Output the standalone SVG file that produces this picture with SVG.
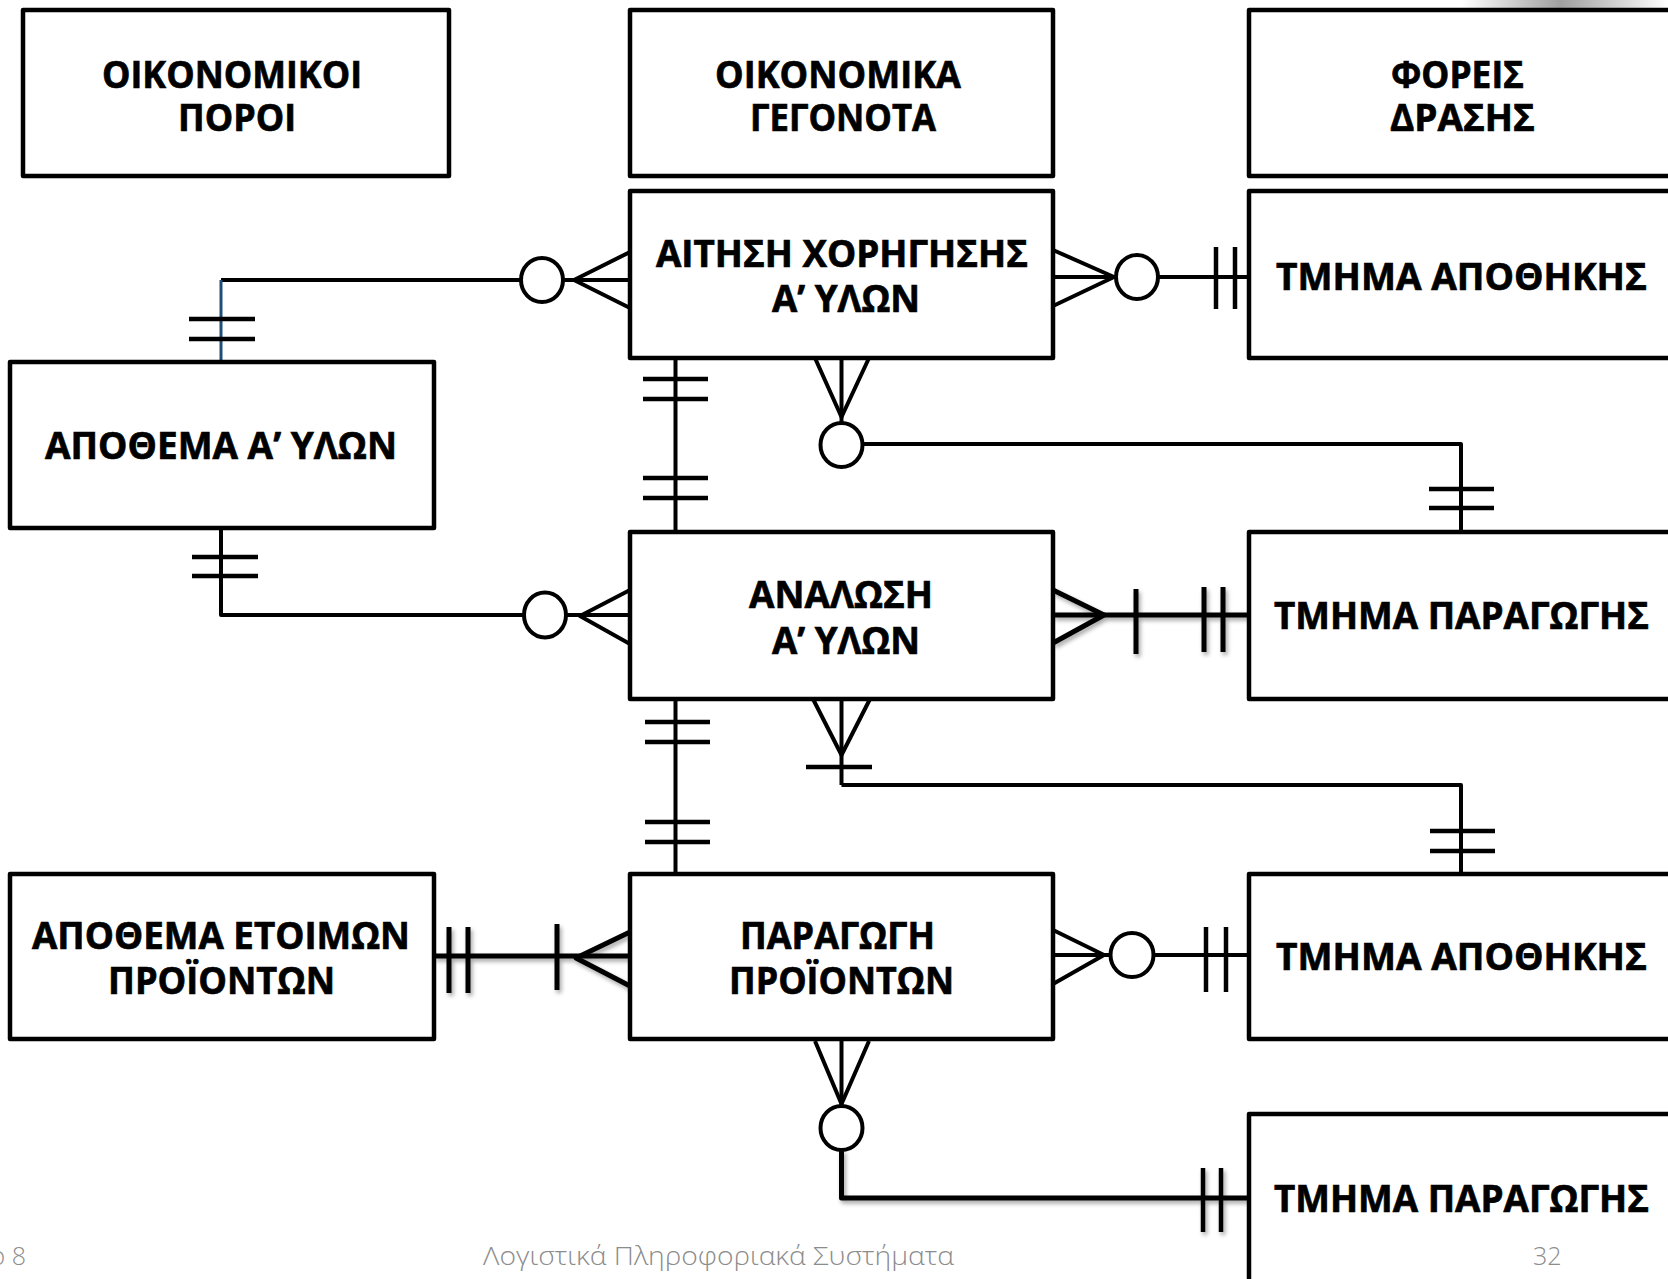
<svg xmlns="http://www.w3.org/2000/svg" width="1668" height="1279" viewBox="0 0 1668 1279">
<defs>
<linearGradient id="topShade" x1="0" y1="0" x2="1" y2="0">
<stop offset="0" stop-color="#a0a0a0" stop-opacity="0"/>
<stop offset="0.48" stop-color="#a0a0a0" stop-opacity="1"/>
<stop offset="1" stop-color="#a0a0a0" stop-opacity="0"/>
</linearGradient>
<filter id="shadow" x="-20%" y="-20%" width="140%" height="140%">
<feDropShadow dx="2" dy="3" stdDeviation="2" flood-color="#000" flood-opacity="0.35"/>
</filter>
<style>
.box{fill:#fff;stroke:#000;stroke-width:4.5;stroke-linejoin:round}
.lbl{font-family:"Open Sans","Liberation Sans",sans-serif;font-weight:700;font-size:38px;fill:#000;stroke:#000;stroke-width:0.7}
.c{fill:none;stroke:#000;stroke-width:4;stroke-linejoin:round}
.t{fill:none;stroke:#000;stroke-width:4.5}
.o{fill:#fff;stroke:#000;stroke-width:4}
.thick{stroke-width:5}
.foot{font-family:"Open Sans","Liberation Sans",sans-serif;font-weight:300;font-size:25px;fill:#8c8c8c}
</style>
</defs>
<rect width="1668" height="1279" fill="#fff"/>
<rect x="1462" y="0" width="206" height="8" fill="url(#topShade)"/>

<g id="connectors">
<g id="conn-a">
<line class="c" x1="221" y1="280" x2="521" y2="280"/>
<line x1="221" y1="280" x2="221" y2="362" stroke="#1f4e79" stroke-width="3"/>
<line class="t" x1="189" y1="319" x2="255" y2="319"/>
<line class="t" x1="189" y1="339" x2="255" y2="339"/>
<ellipse class="o" cx="542" cy="280" rx="21" ry="22"/>
<polyline class="c" points="630,252 574,280 630,308"/>
<line class="c" x1="563" y1="280" x2="630" y2="280"/>
</g>
<g id="conn-b">
<polyline class="c" points="221,528 221,615 523,615"/>
<line class="t" x1="192" y1="557" x2="258" y2="557"/>
<line class="t" x1="192" y1="576" x2="258" y2="576"/>
<ellipse class="o" cx="545" cy="615" rx="21" ry="22.5"/>
<polyline class="c" points="630,590 580,616 630,644"/>
<line class="c" x1="566" y1="615" x2="630" y2="615"/>
</g>
<g id="conn-c">
<polyline class="c" points="1053,250 1114,277 1053,306"/>
<line class="c" x1="1053" y1="277" x2="1116" y2="277"/>
<ellipse class="o" cx="1137" cy="277" rx="21" ry="22"/>
<line class="c" x1="1158" y1="277" x2="1249" y2="277"/>
<line class="t" x1="1216" y1="247" x2="1216" y2="309"/>
<line class="t" x1="1235" y1="247" x2="1235" y2="309"/>
</g>
<g id="conn-d">
<polyline class="c" points="815,358 841.5,417 869,358"/>
<line class="c" x1="841.5" y1="358" x2="841.5" y2="423"/>
<ellipse class="o" cx="841.5" cy="445" rx="21" ry="22"/>
<polyline class="c" points="862.5,444 1461,444 1461,532"/>
<line class="t" x1="1429" y1="489" x2="1494" y2="489"/>
<line class="t" x1="1429" y1="508" x2="1494" y2="508"/>
</g>
<g id="conn-e">
<line class="c" x1="675.5" y1="358" x2="675.5" y2="532"/>
<line class="t" x1="643" y1="379" x2="708" y2="379"/>
<line class="t" x1="643" y1="399" x2="708" y2="399"/>
<line class="t" x1="643" y1="478" x2="708" y2="478"/>
<line class="t" x1="643" y1="498" x2="708" y2="498"/>
</g>
<g id="conn-f" filter="url(#shadow)">
<polyline class="c thick" points="1053,590 1104,615 1053,643"/>
<line class="c thick" x1="1053" y1="615" x2="1249" y2="615"/>
<line class="t thick" x1="1136" y1="589" x2="1136" y2="654"/>
<line class="t thick" x1="1204" y1="587" x2="1204" y2="652"/>
<line class="t thick" x1="1223" y1="587" x2="1223" y2="652"/>
</g>
<g id="conn-g">
<polyline class="c" points="813,699 841.5,755 870,699"/>
<line class="c" x1="841.5" y1="699" x2="841.5" y2="785"/>
<line class="t" x1="806" y1="767" x2="872" y2="767"/>
<polyline class="c" points="841.5,785 1461,785 1461,874"/>
<line class="t" x1="1430" y1="831" x2="1495" y2="831"/>
<line class="t" x1="1430" y1="851" x2="1495" y2="851"/>
</g>
<g id="conn-h">
<line class="c" x1="675.5" y1="699" x2="675.5" y2="874"/>
<line class="t" x1="645" y1="722" x2="710" y2="722"/>
<line class="t" x1="645" y1="742" x2="710" y2="742"/>
<line class="t" x1="645" y1="822" x2="710" y2="822"/>
<line class="t" x1="645" y1="842" x2="710" y2="842"/>
</g>
<g id="conn-i" filter="url(#shadow)">
<line class="c thick" x1="434" y1="956" x2="630" y2="956"/>
<line class="t thick" x1="449" y1="927" x2="449" y2="993"/>
<line class="t thick" x1="468" y1="927" x2="468" y2="993"/>
<line class="t thick" x1="557" y1="924" x2="557" y2="990"/>
<polyline class="c thick" points="630,932 576,958 630,986"/>
</g>
<g id="conn-j">
<polyline class="c" points="1053,930 1104,955 1053,984" stroke-linecap="round"/>
<line class="c" x1="1053" y1="955" x2="1111" y2="955"/>
<ellipse class="o" cx="1132" cy="955" rx="21.5" ry="22"/>
<line class="c" x1="1153.5" y1="955" x2="1249" y2="955"/>
<line class="t" x1="1206" y1="927" x2="1206" y2="992"/>
<line class="t" x1="1226" y1="927" x2="1226" y2="992"/>
</g>
<g id="conn-k">
<polyline class="c" points="815,1041 841.5,1104 869,1041"/>
<line class="c" x1="841.5" y1="1039" x2="841.5" y2="1106"/>
<ellipse class="o" cx="841.5" cy="1128" rx="21" ry="22"/>
<g filter="url(#shadow)">
<polyline class="c thick" points="841.5,1150 841.5,1198 1249,1198"/>
<line class="t" x1="1203" y1="1168" x2="1203" y2="1232"/>
<line class="t" x1="1221" y1="1168" x2="1221" y2="1232"/>
</g>
</g>
</g>

<g id="node-oikonomikoi-poroi">
<rect class="box" x="23" y="10" width="426" height="166"/>
<text class="lbl"><tspan x="102" y="88" textLength="260" lengthAdjust="spacingAndGlyphs">ΟΙΚΟΝΟΜΙΚΟΙ</tspan><tspan x="178" y="131" textLength="118" lengthAdjust="spacingAndGlyphs">ΠΟΡΟΙ</tspan></text>
</g>
<g id="node-oikonomika-gegonota">
<rect class="box" x="630" y="10" width="423" height="166"/>
<text class="lbl"><tspan x="715" y="88" textLength="246" lengthAdjust="spacingAndGlyphs">ΟΙΚΟΝΟΜΙΚΑ</tspan><tspan x="750" y="131" textLength="186" lengthAdjust="spacingAndGlyphs">ΓΕΓΟΝΟΤΑ</tspan></text>
</g>
<g id="node-foreis-drasis">
<rect class="box" x="1249" y="10" width="460" height="166"/>
<text class="lbl"><tspan x="1391" y="88" textLength="133" lengthAdjust="spacingAndGlyphs">ΦΟΡΕΙΣ</tspan><tspan x="1390" y="131" textLength="145" lengthAdjust="spacingAndGlyphs">ΔΡΑΣΗΣ</tspan></text>
</g>
<g id="node-aitisi">
<rect class="box" x="630" y="191" width="423" height="167"/>
<text class="lbl"><tspan x="656" y="267" textLength="372" lengthAdjust="spacingAndGlyphs">ΑΙΤΗΣΗ ΧΟΡΗΓΗΣΗΣ</tspan><tspan x="772" y="312" textLength="148" lengthAdjust="spacingAndGlyphs">Α’ ΥΛΩΝ</tspan></text>
</g>
<g id="node-tmima-apothikis-1">
<rect class="box" x="1249" y="191" width="460" height="167"/>
<text class="lbl" x="1276" y="290" textLength="371" lengthAdjust="spacingAndGlyphs">ΤΜΗΜΑ ΑΠΟΘΗΚΗΣ</text>
</g>
<g id="node-apothema-a-ylon">
<rect class="box" x="10" y="362" width="424" height="166"/>
<text class="lbl" x="45" y="459" textLength="352" lengthAdjust="spacingAndGlyphs">ΑΠΟΘΕΜΑ Α’ ΥΛΩΝ</text>
</g>
<g id="node-analosi">
<rect class="box" x="630" y="532" width="423" height="167"/>
<text class="lbl"><tspan x="749" y="608" textLength="184" lengthAdjust="spacingAndGlyphs">ΑΝΑΛΩΣΗ</tspan><tspan x="772" y="654" textLength="148" lengthAdjust="spacingAndGlyphs">Α’ ΥΛΩΝ</tspan></text>
</g>
<g id="node-tmima-paragogis-1">
<rect class="box" x="1249" y="532" width="460" height="167"/>
<text class="lbl" x="1274" y="629" textLength="375" lengthAdjust="spacingAndGlyphs">ΤΜΗΜΑ ΠΑΡΑΓΩΓΗΣ</text>
</g>
<g id="node-apothema-etoimon">
<rect class="box" x="10" y="874" width="424" height="165"/>
<text class="lbl"><tspan x="32" y="949" textLength="378" lengthAdjust="spacingAndGlyphs">ΑΠΟΘΕΜΑ ΕΤΟΙΜΩΝ</tspan><tspan x="108" y="994" textLength="227" lengthAdjust="spacingAndGlyphs">ΠΡΟΪΟΝΤΩΝ</tspan></text>
</g>
<g id="node-paragogi">
<rect class="box" x="630" y="874" width="423" height="165"/>
<text class="lbl"><tspan x="740" y="949" textLength="195" lengthAdjust="spacingAndGlyphs">ΠΑΡΑΓΩΓΗ</tspan><tspan x="729" y="994" textLength="225" lengthAdjust="spacingAndGlyphs">ΠΡΟΪΟΝΤΩΝ</tspan></text>
</g>
<g id="node-tmima-apothikis-2">
<rect class="box" x="1249" y="874" width="460" height="165"/>
<text class="lbl" x="1276" y="970" textLength="371" lengthAdjust="spacingAndGlyphs">ΤΜΗΜΑ ΑΠΟΘΗΚΗΣ</text>
</g>
<g id="node-tmima-paragogis-2">
<rect class="box" x="1249" y="1114" width="460" height="200"/>
<text class="lbl" x="1274" y="1212" textLength="375" lengthAdjust="spacingAndGlyphs">ΤΜΗΜΑ ΠΑΡΑΓΩΓΗΣ</text>
</g>

<g id="footer">
<text class="foot" x="26" y="1265" text-anchor="end">ο 8</text>
<text class="foot" x="483" y="1265" textLength="471" lengthAdjust="spacingAndGlyphs">Λογιστικά Πληροφοριακά Συστήματα</text>
<text class="foot" x="1533" y="1265">32</text>
</g>
</svg>
